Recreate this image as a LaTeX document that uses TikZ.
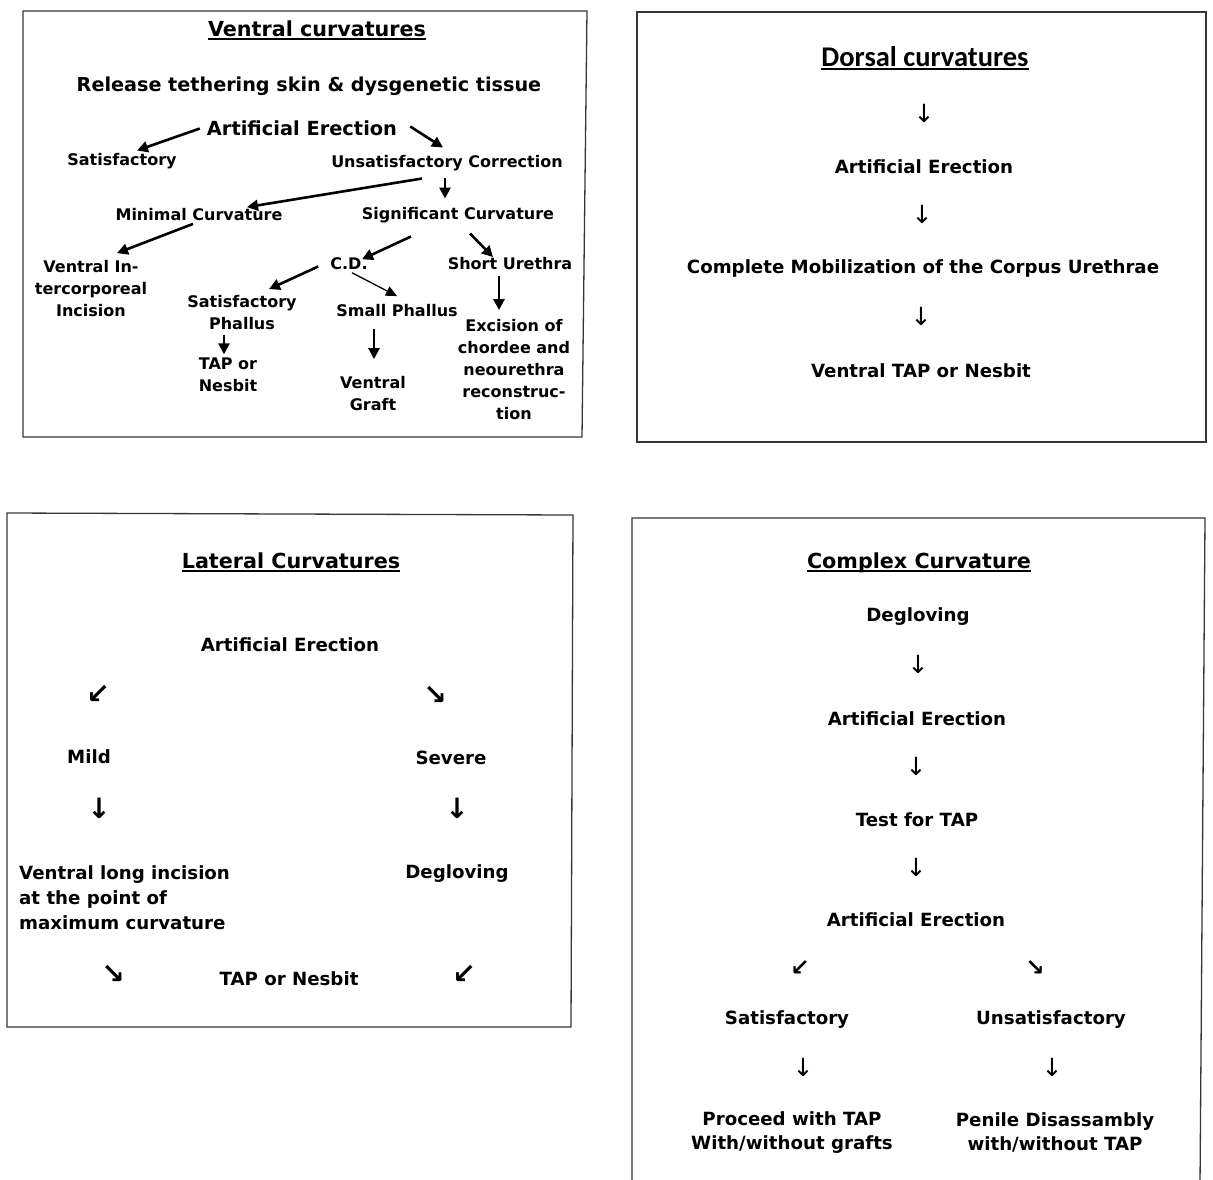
\documentclass[tikz,border=0pt]{standalone}
\usepackage{fontspec}
\setmainfont{DejaVu Sans}
\newfontfamily\titlefont{Carlito}
\usetikzlibrary{arrows.meta}
\definecolor{boxgray}{RGB}{55,55,55}

\tikzset{
  panel/.style={draw=boxgray, line width=1.3pt},
  ttl/.style={font=\bfseries\fontsize{20.7}{24}\selectfont, inner sep=0pt, anchor=base},
  big/.style={font=\bfseries\fontsize{18.2}{24}\selectfont, inner sep=1pt, align=center, yshift=-1.5pt},
  small/.style={font=\bfseries\fontsize{16}{22}\selectfont, inner sep=1pt, align=center, yshift=-1.5pt},
  thinglyph/.style={font=\fontsize{25}{28}\selectfont, inner sep=0pt},
  fatglyph/.style={font=\bfseries\fontsize{28}{30}\selectfont, inner sep=0pt},
  fatarrow/.style={line width=2.6pt, -{Triangle[length=11pt,width=11pt]}},
  slimarrow/.style={line width=1.3pt, -{Triangle[length=11pt,width=10pt]}},
  uline/.style={line width=1.8pt},
}

\begin{document}
\begin{tikzpicture}[x=1pt, y=-1pt]
  \useasboundingbox (0,0) rectangle (1213,1179);

  % the four panels
  \draw[panel] (23,11) -- (587,11) -- (582,437) -- (23,437) -- cycle;
  \draw[panel] (637,12) -- (1206,12) -- (1206,442) -- (637,442) -- cycle;
  \draw[panel] (7,513) -- (573,515) -- (571,1027) -- (7,1027) -- cycle;
  \draw[panel] (632,1185) -- (632,518) -- (1205,518) -- (1200,1185);

  % Ventral curvatures
  \node[ttl] (vtitle) at (317,36) {Ventral curvatures};
  \draw[uline] ([yshift=-3pt]vtitle.base west) -- ([yshift=-3pt]vtitle.base east);
  \node[big, font=\bfseries\fontsize{19.2}{24}\selectfont] (rel) at (309,85) {Release tethering skin \& dysgenetic tissue};
  \node[big, font=\bfseries\fontsize{19.4}{24}\selectfont] (ae) at (302,127) {Artificial Erection};
  \node[small] (sat) at (122,160) {Satisfactory};
  \node[small] (unsat) at (447,162) {Unsatisfactory Correction};
  \node[small] (minc) at (199,213) {Minimal Curvature};
  \node[small] (sigc) at (458,214) {Significant Curvature};
  \node[small] (vii) at (91,287) {Ventral In-\\tercorporeal\\Incision};
  \node[small] (cd) at (349,262) {C.D.};
  \node[small] (shu) at (510,262) {Short Urethra};
  \node[small] (satph) at (242,311) {Satisfactory\\Phallus};
  \node[small] (smph) at (397,309) {Small Phallus};
  \node[small] (tap) at (228,373) {TAP or\\Nesbit};
  \node[small] (vgr) at (373,392) {Ventral\\Graft};
  \node[small] (exc) at (514,368) {Excision of\\chordee and\\neourethra\\reconstruc-\\tion};

  \draw[fatarrow] ([xshift=-6pt]ae.west) -- ([xshift=15pt,yshift=2pt]sat.north);
  \draw[fatarrow] ([xshift=12pt,yshift=2pt]ae.east) -- ([xshift=-4pt,yshift=7pt]unsat.north);
  \draw[fatarrow] ([xshift=-25pt,yshift=-6pt]unsat.south) -- ([xshift=48pt]minc.north);
  \draw[fatarrow] ([xshift=-2pt,yshift=-5pt]unsat.south) -- ([xshift=-13pt,yshift=8pt]sigc.north);
  \draw[fatarrow] ([xshift=-6pt,yshift=-2pt]minc.south) -- ([xshift=26pt,yshift=6pt]vii.north);
  \draw[fatarrow] ([xshift=-47pt,yshift=-12pt]sigc.south) -- ([xshift=13pt,yshift=-3pt]cd.north);
  \draw[fatarrow] ([xshift=12pt,yshift=-9pt]sigc.south) -- ([xshift=-17pt,yshift=-1pt]shu.north);
  \draw[fatarrow] ([xshift=-11pt,yshift=-3pt]cd.west) -- ([xshift=27pt,yshift=5pt]satph.north);
  \draw[slimarrow] ([xshift=3pt,yshift=-2pt]cd.south) -- ([yshift=7pt]smph.north);
  \draw[fatarrow] ([xshift=-18pt,yshift=-4pt]satph.south) -- ([xshift=-4pt,yshift=2pt]tap.north);
  \draw[fatarrow] ([xshift=-23pt,yshift=-11pt]smph.south) -- ([xshift=1pt,yshift=16pt]vgr.north);
  \draw[fatarrow] ([xshift=-11pt,yshift=-5pt]shu.south) -- ([xshift=-15pt,yshift=8pt]exc.north);

  % Dorsal curvatures
  \node[ttl, font=\titlefont\bfseries\fontsize{28.5}{30}\selectfont] (dtitle) at (925,66) {Dorsal curvatures};
  \draw[uline] ([yshift=-3pt]dtitle.base west) -- ([yshift=-3pt]dtitle.base east);
  \node[thinglyph] (dg1) at (924,113) {↓};
  \node[big] (dae) at (924,165) {Artificial Erection};
  \node[thinglyph] (dg2) at (922,214) {↓};
  \node[big] (dmob) at (923,267) {Complete Mobilization of the Corpus Urethrae};
  \node[thinglyph] (dg3) at (921,316) {↓};
  \node[big] (dtap) at (921,369) {Ventral TAP or Nesbit};

  % Lateral Curvatures
  \node[ttl] (ltitle) at (291,568) {Lateral Curvatures};
  \draw[uline] ([yshift=-3pt]ltitle.base west) -- ([yshift=-3pt]ltitle.base east);
  \node[big] (lae) at (290,643) {Artificial Erection};
  \node[fatglyph] (lg1) at (98,694) {↙};
  \node[fatglyph] (lg2) at (435,695) {↘};
  \node[big] (mild) at (89,755) {Mild};
  \node[big] (sev) at (451,756) {Severe};
  \node[fatglyph] (lg3) at (99,808) {↓};
  \node[fatglyph] (lg4) at (457,808) {↓};
  \node[big, align=left, anchor=west, font=\bfseries\fontsize{18.2}{25}\selectfont] (vli) at (18,896) {Ventral long incision\\at the point of\\maximum curvature};
  \node[big] (ldeg) at (457,872) {Degloving};
  \node[fatglyph] (lg5) at (113,974) {↘};
  \node[big] (ltap) at (289,977) {TAP or Nesbit};
  \node[fatglyph] (lg6) at (464,974) {↙};

  % Complex Curvature
  \node[ttl] (ctitle) at (919,568) {Complex Curvature};
  \draw[uline] ([yshift=-3pt]ctitle.base west) -- ([yshift=-3pt]ctitle.base east);
  \node[big] (cdeg) at (918,615) {Degloving};
  \node[thinglyph] (cg1) at (918,664) {↓};
  \node[big] (cae1) at (917,717) {Artificial Erection};
  \node[thinglyph] (cg2) at (916,766) {↓};
  \node[big] (ctest) at (917,818) {Test for TAP};
  \node[thinglyph] (cg3) at (916,867) {↓};
  \node[big] (cae2) at (916,918) {Artificial Erection};
  \node[fatglyph, font=\bfseries\fontsize{23}{26}\selectfont] (cg4) at (800,968) {↙};
  \node[fatglyph, font=\bfseries\fontsize{23}{26}\selectfont] (cg5) at (1035,968) {↘};
  \node[big] (csat) at (787,1018) {Satisfactory};
  \node[big] (cuns) at (1051,1018) {Unsatisfactory};
  \node[thinglyph] (cg6) at (803,1067) {↓};
  \node[thinglyph] (cg7) at (1052,1067) {↓};
  \node[big] (cpro) at (792,1131) {Proceed with TAP\\With/without grafts};
  \node[big] (cpen) at (1055,1131) {Penile Disassambly\\with/without TAP};
\end{tikzpicture}
\end{document}
